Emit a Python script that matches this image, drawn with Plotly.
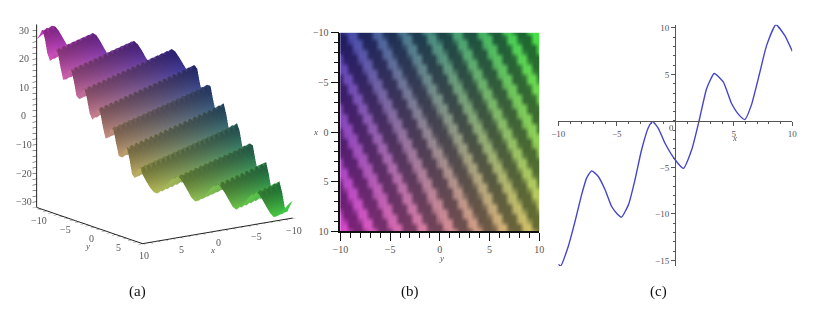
import numpy as np
import plotly.graph_objects as go

W, H = 828, 309

# Panel (c): curve
curve_x = [-10,-9.8,-9.15,-8.57,-8,-7.58,-7.15,-6.58,-6,-5.44,-4.96,-4.6,-4,-3.44,-2.88,-2.3,-1.94,-1.45,-0.88,0,0.69,1.4,2.05,2.68,3.33,4.1,4.8,5.44,5.95,6.5,7.2,7.8,8.6,9.35,10]
curve_y = [-15.4,-15.6,-13.5,-10.8,-7.9,-6.15,-5.37,-5.97,-7.4,-9.2,-10,-10.35,-9,-6.3,-3.1,-0.7,-0.07,-0.8,-2.4,-4.2,-5.1,-3.1,0.1,3.5,5.1,4.2,1.9,0.65,0.15,1.7,5.1,8.1,10.35,9.2,7.5]

# Surface height along x-2y = -30 ... 30 in steps of 0.5
profile = [
 -25.9,-26.8,-28.0,-29.2,-30.4,-30.6,-29.0,-26.6,-24.0,-21.6,-20.7,
 -21.3,-22.6,-23.8,-25.0,-25.8,-24.5,-22.0,-19.4,-17.2,-15.6,-15.9,-17.0,-18.3,-19.5,-20.3,-20.4,-18.8,-16.2,-13.6,-11.4,
 -10.5,-11.0,-12.1,-13.3,-14.6,-15.4,-14.7,-12.9,-10.5,-7.9,-5.9,-5.4,-6.2,-7.4,-9.0,-10.0,-10.2,-9.0,-6.6,-3.8,
 -1.4,-0.1,-0.7,-2.0,-3.3,-4.2,-4.9,-4.2,-2.7,-0.1,2.5,4.4,5.0,4.4,2.9,1.5,0.6,0.3,1.7,4.1,
 6.6,8.8,10.2,9.8,8.9,7.5,6.2,5.4,5.6,7.2,9.6,12.0,14.2,15.4,14.8,13.6,12.2,11.0,10.5,11.8,
 14.2,16.8,19.0,20.4,20.3,19.2,17.9,16.7,15.8,15.8,17.3,19.7,22.3,24.6,25.7,25.2,24.0,22.7,21.5,20.8,
 21.4,23.3,25.8,28.3,30.2,30.7,29.8,28.5,27.6,26.8,
]
assert len(profile) == 121
grid = [-10+0.5*i for i in range(41)]
major_xy = [-10,-5,0,5,10]
minor_xy = list(range(-10,11))
z_major = [-30,-20,-10,0,10,20,30]
z_minor = list(range(-30,31,2))

FONT = "Liberation Serif"
TICK = "#555555"

def px(x): return x/W
def py(y): return 1-y/H
def lab(v): return "\u2212%d"%-v if v<0 else str(v)

P = np.array(profile)
slope = np.gradient(P, 0.5)
shade_s = 1/(1+np.exp((slope+0.3)/0.5))
S_axis = np.arange(-30,30.25,0.5)
d = P-S_axis
dn = (d-d.min())/(d.max()-d.min())
shade_a = np.maximum(np.clip(1-dn,0,1)**1.3*0.95, shade_s*0.8)

G = np.array(grid)
XX, YY = np.meshgrid(G, G, indexing="ij")   # XX rows: x
idx = np.rint((XX-2*YY+30)/0.5).astype(int)
ZZ = P[idx]

def corner_mix(xx, yy, tl, tr, bl, br):
    u = (yy+10)/20; v = (xx+10)/20
    c = [np.array(k, float)[None,None,:] for k in (tl,tr,bl,br)]
    return (c[0]*((1-u)*(1-v))[...,None]+c[1]*(u*(1-v))[...,None]+c[2]*((1-u)*v)[...,None]+c[3]*(u*v)[...,None])

DARK = ((30,28,100),(28,110,45),(125,30,125),(105,110,50))
BRIGHT = ((75,70,180),(70,230,70),(220,70,210),(210,200,100))
dark = corner_mix(XX,YY,*DARK)
bright = corner_mix(XX,YY,*BRIGHT)
RGB = dark+(bright-dark)*shade_s[idx][...,None]
RGB3 = dark+(bright-dark)*shade_a[idx][...,None]

# Display raster for the top view: the grid colours resampled to one pixel per screen pixel
N = 199
fine = np.linspace(-10,10,N)
tmp = np.stack([np.stack([np.interp(fine, G, RGB[i,:,c]) for i in range(41)]) for c in range(3)], -1)
img = np.stack([np.stack([np.interp(fine, G, tmp[:,j,c]) for j in range(N)], -1) for c in range(3)], -1)

fig = go.Figure()

# (a) surface
nx, ny = XX.shape
ids = np.arange(nx*ny).reshape(nx,ny)
a0 = ids[:-1,:-1].ravel(); b0 = ids[1:,:-1].ravel(); c0 = ids[1:,1:].ravel(); d0 = ids[:-1,1:].ravel()
vc = [f"rgb({int(r)},{int(g)},{int(b)})" for r,g,b in RGB3.reshape(-1,3)]
fig.add_trace(go.Mesh3d(x=XX.ravel(), y=YY.ravel(), z=ZZ.ravel(),
    i=np.r_[a0,a0], j=np.r_[b0,c0], k=np.r_[c0,d0], vertexcolor=vc,
    lighting=dict(ambient=1,diffuse=0,specular=0,roughness=1,fresnel=0), flatshading=False,
    hoverinfo="skip", scene="scene"))

def ax3(vals):
    return dict(range=[min(vals),max(vals)] , tickmode="array", tickvals=vals, ticktext=["" for v in vals],
        showgrid=False, zeroline=False, showbackground=False, showline=True, linecolor="#222", linewidth=2,
        ticks="outside", ticklen=5, tickcolor="#222", tickwidth=1, showspikes=False,
        tickfont=dict(family=FONT,size=10,color=TICK), title=dict(text=""))
zax = ax3(z_minor); zax["range"]=[-32,32]
eye = np.array([.5485,.793,.185])*1.9
k = 1.361

def a3(x,y,z,text,xs,ys):
    return dict(x=x,y=y,z=z,text=text,showarrow=False,xshift=xs,yshift=ys,font=dict(family=FONT,size=10,color=TICK))
ann3 = [a3(10,v,-32,lab(v),2,-13) for v in major_xy[:-1]]
ann3 += [a3(v,10,-32,lab(v),1,-12) for v in major_xy]
ann3 += [a3(10,-10,v,lab(v),-13,0) for v in z_major]

scene = dict(domain=dict(x=[0,334/W], y=[1-270/H,1]), aspectmode="manual",
    aspectratio=dict(x=k,y=k,z=1.026*k),
    camera=dict(eye=dict(x=eye[0],y=eye[1],z=eye[2]), up=dict(x=0,y=0,z=1), center=dict(x=-0.0144,y=0.01,z=-0.105), projection=dict(type="orthographic")),
    xaxis=ax3(minor_xy), yaxis=ax3(minor_xy), zaxis=zax, bgcolor="rgba(0,0,0,0)", annotations=ann3)

# (b) top view
fig.add_trace(go.Image(z=np.clip(img,0,255).astype(np.uint8), x0=-10, dx=20/(N-1), y0=-10, dy=20/(N-1),
    xaxis="x", yaxis="y", hoverinfo="skip"))

# (c) curve
fig.add_trace(go.Scatter(x=curve_x, y=curve_y, mode="lines", line=dict(color="#4545c8", width=1.4, shape="spline", smoothing=0.5),
    xaxis="x2", yaxis="y2", hoverinfo="skip"))

Bx0,Bx1,By0,By1 = 340.3,539.3,32.7,231.3
Cx0,Cx1,Cy0,Cy1 = 558.3,792.3,24.7,266
c_y_top, c_y_bot = 10.35, -15.6
cmaj_x = [-10,-5,5,10]; cmaj_y=[-15,-10,-5,5,10]
fig.update_layout(
    width=W, height=H, autosize=False, margin=dict(l=0,r=0,t=0,b=0), paper_bgcolor="white", plot_bgcolor="white",
    showlegend=False, scene=scene,
    xaxis=dict(domain=[px(Bx0),px(Bx1)], range=[-10,10], anchor="y", automargin=False, tickmode="array", tickvals=major_xy,
        ticktext=[lab(v) for v in major_xy], ticks="outside", ticklen=8, tickwidth=1, tickcolor="#111", showline=True, linecolor="#111", linewidth=1.5,
        showgrid=False, zeroline=False, constrain="domain", minor=dict(dtick=1, tick0=0, ticks="outside", ticklen=5, tickcolor="#111", showgrid=False), tickfont=dict(family=FONT,size=10,color=TICK)),
    yaxis=dict(domain=[py(By1),py(By0)], range=[10,-10], anchor="x", automargin=False, tickmode="array", tickvals=major_xy,
        ticktext=[lab(v) for v in major_xy], ticks="outside", ticklen=8, tickwidth=1, tickcolor="#111", showline=True, linecolor="#111", linewidth=1.5,
        showgrid=False, zeroline=False, scaleanchor=False, constrain="domain", minor=dict(dtick=1, tick0=0, ticks="outside", ticklen=5, tickcolor="#111", showgrid=False), tickfont=dict(family=FONT,size=10,color=TICK)),
    xaxis2=dict(domain=[px(Cx0),px(Cx1)], range=[-10,10], anchor="free", position=py(121), automargin=False, tickmode="array", tickvals=cmaj_x,
        ticktext=[lab(v) for v in cmaj_x], ticks="outside", ticklen=4, tickwidth=1, tickcolor="#555", showline=True, linecolor="#555", linewidth=1,
        showgrid=False, zeroline=False, minor=dict(dtick=1, tick0=0, ticks="outside", ticklen=2, tickcolor="#555", showgrid=False), tickfont=dict(family=FONT,size=9,color=TICK)),
    yaxis2=dict(domain=[py(Cy1),py(Cy0)], range=[c_y_bot,c_y_top], anchor="free", position=px(675), automargin=False, tickmode="array", tickvals=cmaj_y,
        ticktext=[lab(v) for v in cmaj_y], ticks="outside", ticklen=4, tickwidth=1, tickcolor="#555", showline=True, linecolor="#555", linewidth=1,
        showgrid=False, zeroline=False, minor=dict(dtick=1, tick0=0, ticks="outside", ticklen=2, tickcolor="#555", showgrid=False), tickfont=dict(family=FONT,size=9,color=TICK)),
)

def note(text, x, y, size=10, color=TICK, italic=False):
    fig.add_annotation(text=f"<i>{text}</i>" if italic else text, x=px(x), y=py(y), xref="paper", yref="paper",
        showarrow=False, font=dict(family=FONT,size=size,color=color), xanchor="center", yanchor="middle")

note("(a)",137,291,15,"#111")
note("(b)",410,291,15,"#111")
note("(c)",658,291,15,"#111")
note("y",87,246,9,italic=True)
note("x",213,250,9,italic=True)
note("y",441,258,9,italic=True)
note("x",315,132,9,italic=True)
note("x",734,138,9,italic=True)
note("0",671.5,128,9)

fig.write_html("out.html", post_script="document.body.style.margin='0';", config=dict(displayModeBar=False))
